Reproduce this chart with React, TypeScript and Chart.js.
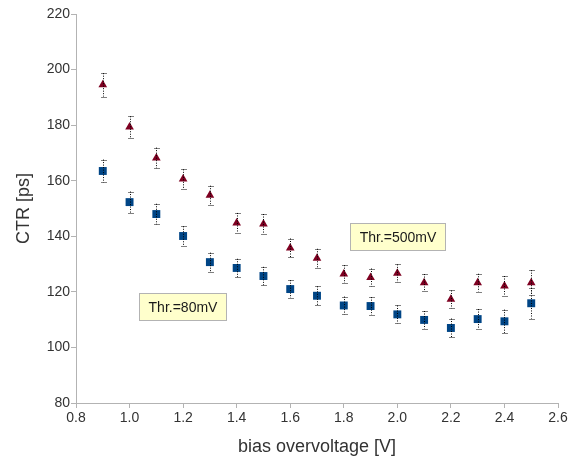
import React, { useEffect, useRef } from "react";
import { Chart, registerables } from "chart.js";

Chart.register(...registerables);

const biasV = [0.9, 1.0, 1.1, 1.2, 1.3, 1.4, 1.5, 1.6, 1.7, 1.8, 1.9, 2.0, 2.1, 2.2, 2.3, 2.4, 2.5];
const ctr80 = [163.5, 152.3, 148.0, 140.1, 130.7, 128.6, 125.7, 121.0, 118.6, 115.1, 114.9, 111.9, 109.9, 107.0, 110.2, 109.4, 115.9];
const err80 = [4.1, 3.8, 3.7, 3.5, 3.4, 3.3, 3.3, 3.2, 3.4, 3.2, 3.2, 3.2, 3.2, 3.4, 3.6, 4.2, 5.5];
const ctr500 = [194.5, 179.3, 168.2, 160.6, 154.8, 144.8, 144.4, 135.8, 132.1, 126.4, 125.2, 126.7, 123.3, 117.3, 123.3, 122.1, 123.3];
const err500 = [4.2, 3.9, 3.7, 3.5, 3.4, 3.6, 3.6, 3.4, 3.4, 3.2, 3.2, 3.2, 3.1, 3.2, 3.2, 3.6, 4.5];

const xTicks = [0.8, 1.0, 1.2, 1.4, 1.6, 1.8, 2.0, 2.2, 2.4, 2.6];
const yTicks = [80, 100, 120, 140, 160, 180, 200, 220];

const labels = [
  { text: "Thr.=80mV", x: 1.196, y: 114.9 },
  { text: "Thr.=500mV", x: 1.999, y: 140.1 },
];

const FONT = "'Liberation Sans', Arial, sans-serif";

const errorBarPlugin = {
  id: "errorBars",
  afterDatasetsDraw(chart: any) {
    const ctx = chart.ctx;
    const xs = chart.scales.x;
    const ys = chart.scales.y;
    ctx.save();
    ctx.strokeStyle = "#000";
    ctx.lineWidth = 1;
    chart.data.datasets.forEach((ds: any) => {
      const errs = ds.errors as number[];
      ds.data.forEach((p: any, i: number) => {
        const px = Math.round(xs.getPixelForValue(p.x)) + 0.5;
        const yTop = ys.getPixelForValue(p.y + errs[i]);
        const yBot = ys.getPixelForValue(p.y - errs[i]);
        ctx.setLineDash([1, 1.5]);
        ctx.beginPath();
        ctx.moveTo(px, yTop);
        ctx.lineTo(px, yBot);
        ctx.stroke();
        ctx.setLineDash([1, 1]);
        ctx.beginPath();
        ctx.moveTo(px - 2, Math.round(yTop) + 0.5);
        ctx.lineTo(px + 3, Math.round(yTop) + 0.5);
        ctx.moveTo(px - 2, Math.round(yBot) + 0.5);
        ctx.lineTo(px + 3, Math.round(yBot) + 0.5);
        ctx.stroke();
      });
    });
    ctx.restore();
  },
};

const labelPlugin = {
  id: "labelBoxes",
  afterDatasetsDraw(chart: any) {
    const ctx = chart.ctx;
    const xs = chart.scales.x;
    const ys = chart.scales.y;
    ctx.save();
    ctx.font = `14px ${FONT}`;
    labels.forEach((l) => {
      const cx = xs.getPixelForValue(l.x);
      const cy = ys.getPixelForValue(l.y);
      const w = Math.round(ctx.measureText(l.text).width + 18);
      const h = 27;
      const x0 = Math.round(cx - w / 2) + 0.5;
      const y0 = Math.round(cy - h / 2) + 0.5;
      ctx.fillStyle = "#ffffcc";
      ctx.fillRect(x0, y0, w, h);
      ctx.strokeStyle = "#b3b3b3";
      ctx.lineWidth = 1;
      ctx.strokeRect(x0, y0, w, h);
      ctx.fillStyle = "#1a1a1a";
      ctx.textAlign = "center";
      ctx.textBaseline = "middle";
      ctx.fillText(l.text, x0 + w / 2, y0 + h / 2 + 1);
    });
    ctx.restore();
  },
};

export default function App() {
  const ref = useRef<HTMLCanvasElement | null>(null);

  useEffect(() => {
    if (!ref.current) return;
    const chart = new Chart(ref.current, {
      type: "scatter",
      data: {
        datasets: [
          {
            label: "Thr.=80mV",
            data: biasV.map((x, i) => ({ x, y: ctr80[i] })),
            errors: err80,
            pointStyle: "rect",
            pointRadius: 5.6,
            pointBackgroundColor: "#004586",
            pointBorderColor: "#004586",
            pointBorderWidth: 0,
            showLine: false,
          } as any,
          {
            label: "Thr.=500mV",
            data: biasV.map((x, i) => ({ x, y: ctr500[i] })),
            errors: err500,
            pointStyle: "triangle",
            pointRadius: 5,
            pointBackgroundColor: "#7e0021",
            pointBorderColor: "#7e0021",
            pointBorderWidth: 0,
            showLine: false,
          } as any,
        ],
      },
      options: {
        animation: false,
        responsive: true,
        maintainAspectRatio: false,
        layout: { padding: { left: 0, top: 14, right: 22, bottom: 0 } },
        plugins: {
          legend: { display: false },
          tooltip: { enabled: false },
        },
        scales: {
          x: {
            type: "linear",
            min: 0.8,
            max: 2.6,
            afterFit: (s: any) => {
              s.height = 60;
            },
            afterBuildTicks: (s: any) => {
              s.ticks = xTicks.map((v) => ({ value: v }));
            },
            ticks: {
              color: "#333",
              font: { family: FONT, size: 14 },
              padding: 2,
              maxRotation: 0,
              callback: (v: any) => Number(v).toFixed(1),
            },
            grid: {
              display: true,
              drawOnChartArea: false,
              drawTicks: true,
              tickLength: 5,
              color: "#b3b3b3",
            },
            border: { color: "#b3b3b3", width: 1 },
            title: {
              display: true,
              text: "bias overvoltage [V]",
              color: "#333",
              font: { family: FONT, size: 18 },
              padding: { top: 0, bottom: 5 },
            },
          },
          y: {
            type: "linear",
            min: 80,
            max: 220,
            afterFit: (s: any) => {
              s.width = 76;
            },
            afterBuildTicks: (s: any) => {
              s.ticks = yTicks.map((v) => ({ value: v }));
            },
            ticks: {
              color: "#333",
              font: { family: FONT, size: 14 },
              padding: 1,
            },
            grid: {
              display: true,
              drawOnChartArea: false,
              drawTicks: true,
              tickLength: 5,
              color: "#b3b3b3",
            },
            border: { color: "#b3b3b3", width: 1 },
            title: {
              display: true,
              text: "CTR [ps]",
              color: "#333",
              font: { family: FONT, size: 18 },
              padding: { top: 13, bottom: 0 },
            },
          },
        },
      },
      plugins: [errorBarPlugin, labelPlugin],
    });
    return () => chart.destroy();
  }, []);

  return (
    <div style={{ position: "fixed", left: 0, top: 0, width: 580, height: 463, background: "#fff" }}>
      <canvas ref={ref} />
    </div>
  );
}
